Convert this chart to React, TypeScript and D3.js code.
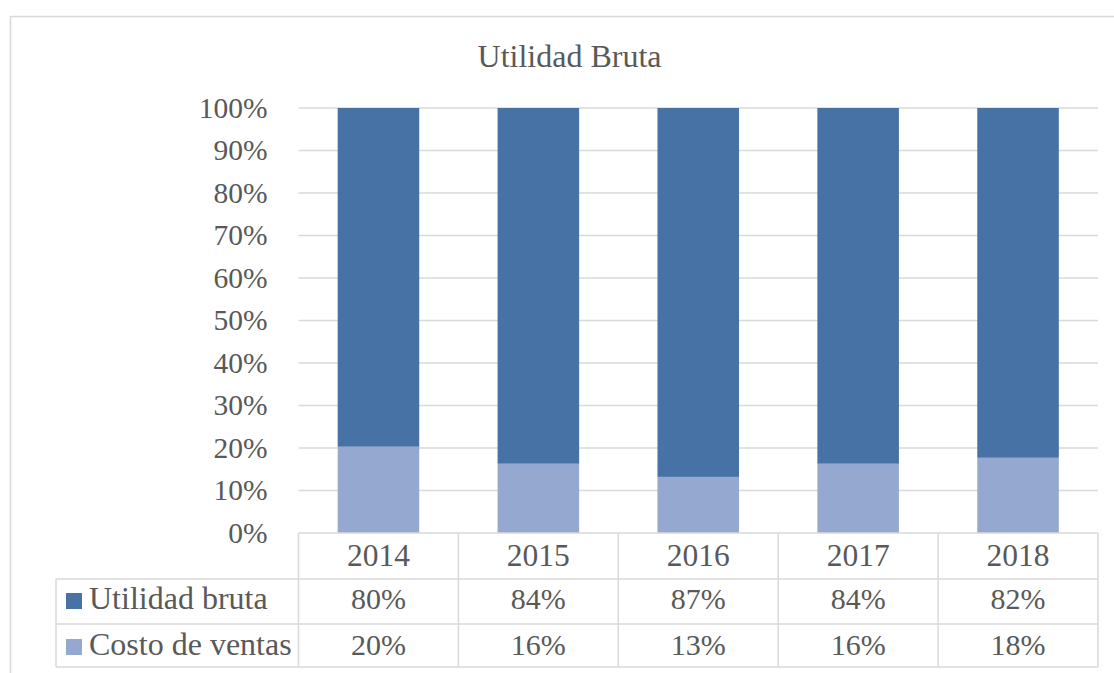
import React from "react";
import * as d3 from "d3";

const years = ["2014", "2015", "2016", "2017", "2018"];
const utilidadBruta = [0.797, 0.837, 0.868, 0.837, 0.823];
const costoVentas = [0.203, 0.163, 0.132, 0.163, 0.177];
const yTicks = [0, 0.1, 0.2, 0.3, 0.4, 0.5, 0.6, 0.7, 0.8, 0.9, 1.0];
const seriesNames = ["Utilidad bruta", "Costo de ventas"];
const seriesColors = ["#4672A6", "#95A9D0"];

const W = 1114;
const H = 673;
const plotLeft = 298.5;
const plotRight = 1098;
const plotTop = 108;
const plotBottom = 533;
const tableLeft = 56;
const rowLines = [533, 579, 624, 667];
const FONT = "'Liberation Serif', 'Times New Roman', serif";
const TEXT = "#595959";
const GRID = "#D9D9D9";

export default function App() {
  const x = d3.scaleBand<string>().domain(years).range([plotLeft, plotRight]).paddingInner(0.49).paddingOuter(0.245);
  const xCell = d3.scaleBand<string>().domain(years).range([plotLeft, plotRight]);
  const y = d3.scaleLinear().domain([0, 1]).range([plotBottom, plotTop]);
  const fmt = d3.format(".0%");

  const stack = d3.stack<number>().keys(["c", "u"]).value((i, k) => (k === "c" ? costoVentas[i] : utilidadBruta[i]));
  const stacked = stack(years.map((_, i) => i));
  const stackColors = [seriesColors[1], seriesColors[0]];
  const rowValues = [utilidadBruta, costoVentas];

  return (
    <svg width={W} height={H} style={{ position: "absolute", left: 0, top: 0, background: "#fff" }} fontFamily={FONT}>
      <rect x={10.5} y={16.5} width={W + 10} height={H + 10} fill="#fff" stroke={GRID} strokeWidth={1.5} />
      <text x={569.5} y={67} textAnchor="middle" fontSize={32} fill={TEXT}>Utilidad Bruta</text>

      {yTicks.map((t) => (
        <g key={t}>
          {t > 0 && <line x1={plotLeft} x2={plotRight} y1={y(t)} y2={y(t)} stroke={GRID} strokeWidth={1.5} />}
          <text x={267.5} y={y(t) + 9.5} textAnchor="end" fontSize={29.5} fill={TEXT}>{fmt(t)}</text>
        </g>
      ))}

      {stacked.map((layer, li) => (
        <g key={li} fill={stackColors[li]}>
          {layer.map((d, i) => (
            <rect key={i} x={x(years[i])} width={x.bandwidth()} y={y(d[1])} height={y(d[0]) - y(d[1])} />
          ))}
        </g>
      ))}

      {/* data table */}
      <g stroke={GRID} strokeWidth={1.5} fill="none">
        <line x1={plotLeft} x2={plotRight} y1={rowLines[0]} y2={rowLines[0]} />
        {rowLines.slice(1).map((r) => (
          <line key={r} x1={tableLeft} x2={plotRight} y1={r} y2={r} />
        ))}
        <line x1={tableLeft} x2={tableLeft} y1={rowLines[1]} y2={rowLines[3]} />
        {years.map((yr) => (
          <line key={yr} x1={xCell(yr)} x2={xCell(yr)} y1={rowLines[0]} y2={rowLines[3]} />
        ))}
        <line x1={plotRight} x2={plotRight} y1={rowLines[0]} y2={rowLines[3]} />
      </g>

      {years.map((yr) => (
        <text key={yr} x={xCell(yr)! + xCell.bandwidth() / 2} y={566} textAnchor="middle" fontSize={31.5} fill={TEXT}>{yr}</text>
      ))}

      {seriesNames.map((name, si) => {
        const base = si === 0 ? 609 : 655;
        return (
          <g key={name}>
            <rect x={66} y={base - 16} width={16} height={16} fill={seriesColors[si]} />
            <text x={89} y={base} fontSize={32} fill={TEXT}>{name}</text>
            {rowValues[si].map((v, i) => (
              <text key={i} x={xCell(years[i])! + xCell.bandwidth() / 2} y={base} textAnchor="middle" fontSize={30} fill={TEXT}>{fmt(v)}</text>
            ))}
          </g>
        );
      })}
    </svg>
  );
}
